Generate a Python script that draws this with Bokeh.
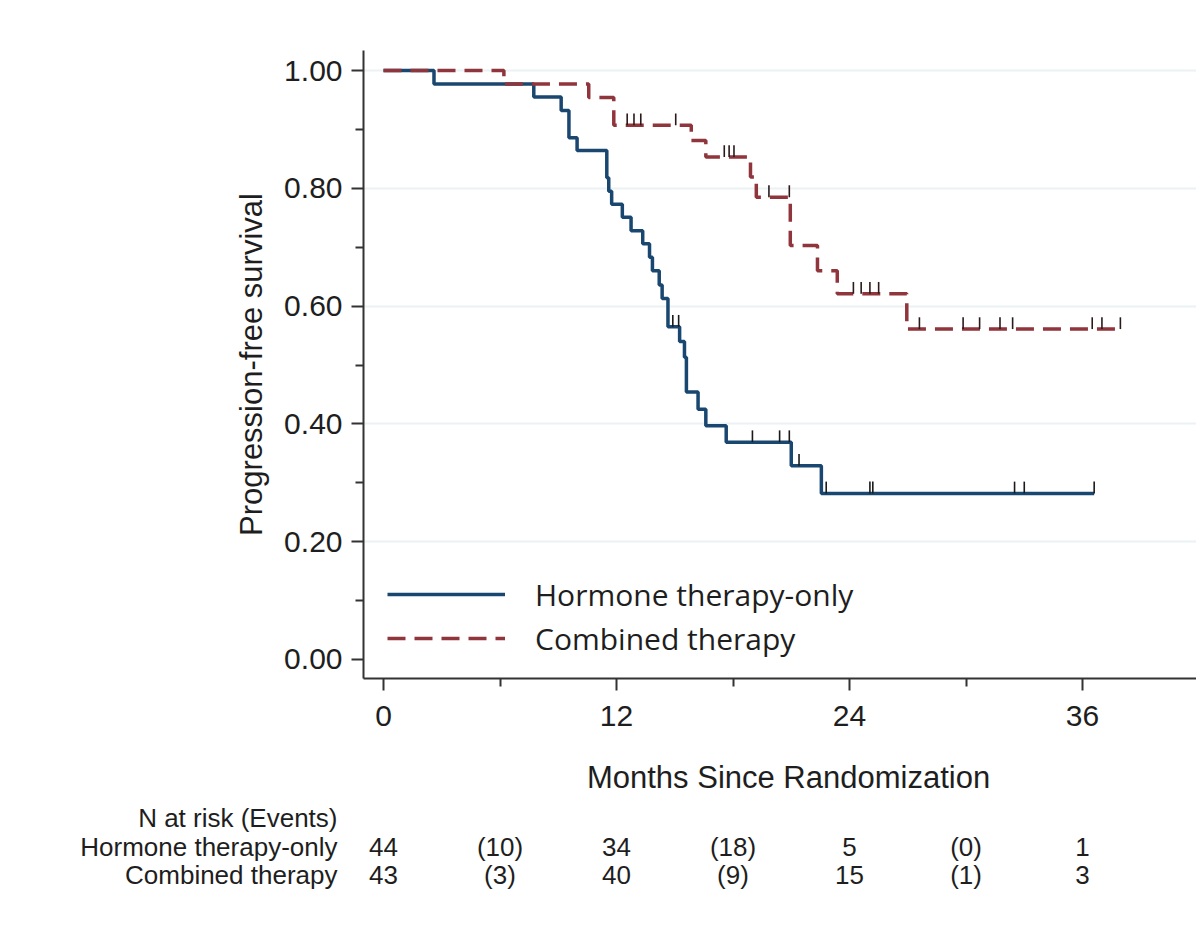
from bokeh.plotting import figure
from bokeh.models import FixedTicker, Legend, LegendItem, Range1d, CustomJSTickFormatter
from bokeh.layouts import column
from bokeh.core.properties import value
from bokeh.embed import file_html
from bokeh.resources import INLINE
import bisect

# ---- data ----
hormone_t = [0, 2.6, 7.74, 9.15, 9.55, 9.97, 11.5, 11.6, 11.75, 12.3, 12.75, 13.35,
             13.7, 13.85, 14.2, 14.35, 14.65, 15.25, 15.5, 15.6, 16.2, 16.6, 17.65,
             21.0, 22.55, 36.6]
hormone_s = [1.0, 0.977, 0.955, 0.932, 0.886, 0.864, 0.818, 0.795, 0.773, 0.751, 0.728, 0.706,
             0.683, 0.660, 0.636, 0.613, 0.565, 0.540, 0.513, 0.454, 0.425, 0.397, 0.369,
             0.329, 0.282, 0.282]
hormone_censor = [14.9, 15.2, 19.0, 20.4, 20.9, 21.4, 22.8, 25.05, 25.2, 32.5, 33.0, 36.6]

combined_t = [0, 6.2, 10.57, 11.86, 15.85, 16.6, 18.9, 19.2, 20.95, 22.35, 23.37, 26.95, 37.95]
combined_s = [1.0, 0.977, 0.954, 0.907, 0.881, 0.853, 0.819, 0.785, 0.703, 0.660, 0.621, 0.561, 0.561]
combined_censor = [12.55, 12.9, 13.25, 15.05, 17.55, 17.8, 18.05, 19.85, 20.9, 24.2, 24.6,
                   25.05, 25.5, 27.6, 29.85, 30.7, 31.75, 32.4, 36.5, 37.0, 37.95]

x_ticks = [0, 12, 24, 36]
x_minor = [6, 18, 30, 42]
y_ticks = [0.0, 0.2, 0.4, 0.6, 0.8, 1.0]
y_minor = [0.1, 0.3, 0.5, 0.7, 0.9]

risk_times = [0, 12, 24, 36]
event_times = [6, 18, 30]
hormone_at_risk = [44, 34, 5, 1]
hormone_events = [10, 18, 0]
combined_at_risk = [43, 40, 15, 3]
combined_events = [3, 9, 1]
table_title = "N at risk (Events)"
row_names = ["Hormone therapy-only", "Combined therapy"]

BLUE = "#1a476f"
RED = "#90353b"
TXT = "#1e1e1e"
FONT = "Liberation Sans"

W = 1196
XR = (-1.03, 41.87)


def surv_at(ts, ss, t):
    i = bisect.bisect_right(ts, t) - 1
    return ss[max(i, 0)]


p = figure(width=W, height=745, x_range=Range1d(*XR), y_range=(-0.0323, 1.034),
           output_backend="svg", toolbar_location=None,
           min_border_left=363, min_border_right=0, min_border_top=50, min_border_bottom=67)
p.outline_line_color = None
p.background_fill_color = "white"
p.border_fill_color = "white"

# axes
p.xaxis.ticker = FixedTicker(ticks=x_ticks, minor_ticks=x_minor)
p.yaxis.ticker = FixedTicker(ticks=y_ticks, minor_ticks=y_minor)
p.yaxis.formatter = CustomJSTickFormatter(code="return tick.toFixed(2);")
for ax in (p.xaxis[0], p.yaxis[0]):
    ax.axis_line_width = 2
    ax.axis_line_color = "#333333"
    ax.major_tick_line_color = "#333333"
    ax.minor_tick_line_color = "#333333"
    ax.major_tick_line_width = 2
    ax.minor_tick_line_width = 2
    ax.major_tick_out = 12
    ax.major_tick_in = 0
    ax.minor_tick_out = 8
    ax.minor_tick_in = 0
    ax.major_label_text_font = FONT
    ax.major_label_text_font_size = "30px"
    ax.major_label_text_color = TXT
p.xaxis.major_label_standoff = 15
p.yaxis.major_label_standoff = 9
p.yaxis.axis_label = "Progression-free survival"
p.yaxis.axis_label_text_font = FONT
p.yaxis.axis_label_text_font_size = "31px"
p.yaxis.axis_label_text_font_style = "normal"
p.yaxis.axis_label_text_color = TXT
p.yaxis.axis_label_standoff = 12

# grid
p.xgrid.grid_line_color = None
p.ygrid.ticker = FixedTicker(ticks=y_ticks[1:])
p.ygrid.grid_line_color = "#eaf2f3"
p.ygrid.grid_line_width = 2

# curves
r1 = p.step(hormone_t, hormone_s, mode="after", line_color=BLUE, line_width=3.5)
r2 = p.step(combined_t, combined_s, mode="after", line_color=RED, line_width=3.5,
            line_dash="18 9")

# censor ticks
hc_y = [surv_at(hormone_t, hormone_s, t) for t in hormone_censor]
cc_y = [surv_at(combined_t, combined_s, t) for t in combined_censor]
p.segment(x0=hormone_censor, y0=hc_y, x1=hormone_censor, y1=[v + 0.02 for v in hc_y],
          line_color="#1a1a1a", line_width=1.6)
p.segment(x0=combined_censor, y0=cc_y, x1=combined_censor, y1=[v + 0.02 for v in cc_y],
          line_color="#2a1a1a", line_width=1.6)

legend = Legend(items=[LegendItem(label="Hormone therapy-only", renderers=[r1]),
                       LegendItem(label="Combined therapy", renderers=[r2])],
                location=(24, 18), padding=0, margin=0, spacing=0,
                glyph_width=118, glyph_height=44, label_height=44, label_standoff=30,
                label_text_font="Open Sans", label_text_font_size="30px",
                label_text_color=TXT, background_fill_alpha=0, border_line_color=None)
p.add_layout(legend)

# ---- lower panel: axis title and number-at-risk table ----
q = figure(width=W, height=175, x_range=Range1d(*XR), y_range=Range1d(920, 745),
           output_backend="svg", toolbar_location=None, x_axis_location=None,
           min_border_left=363, min_border_right=0, min_border_top=0, min_border_bottom=0)
q.outline_line_color = None
q.grid.visible = False
q.background_fill_color = "white"
q.border_fill_color = "white"

row_y = [817, 846, 874]
q.yaxis.ticker = FixedTicker(ticks=row_y, minor_ticks=[])
q.yaxis.major_label_overrides = {row_y[0]: table_title, row_y[1]: row_names[0],
                                 row_y[2]: row_names[1]}
q.yaxis.axis_line_color = None
q.yaxis.major_tick_line_color = None
q.yaxis.minor_tick_line_color = None
q.yaxis.major_tick_out = 0
q.yaxis.major_tick_in = 0
q.yaxis.major_label_standoff = 26
q.yaxis.major_label_text_font = FONT
q.yaxis.major_label_text_font_size = "26px"
q.yaxis.major_label_text_color = TXT

q.text(x=[20.86], y=[777], text=["Months Since Randomization"], text_align="center",
       text_baseline="middle", text_font=value(FONT), text_font_size=value("31px"),
       text_color=TXT)

tx, ty, tt = [], [], []
for yy, risk, ev in ((row_y[1], hormone_at_risk, hormone_events),
                     (row_y[2], combined_at_risk, combined_events)):
    for t, n in zip(risk_times, risk):
        tx.append(t); ty.append(yy); tt.append(str(n))
    for t, n in zip(event_times, ev):
        tx.append(t); ty.append(yy); tt.append("(%d)" % n)
q.text(x=tx, y=ty, text=tt, text_align="center", text_baseline="middle",
       text_font=value(FONT), text_font_size=value("26px"), text_color=TXT)

layout = column(p, q, spacing=0)
open("out.html", "w").write(file_html(layout, INLINE))
